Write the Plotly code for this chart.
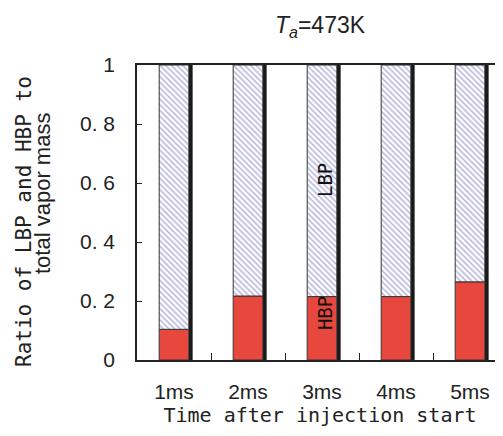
import plotly.graph_objects as go

categories = ["1ms", "2ms", "3ms", "4ms", "5ms"]
hbp = [0.104, 0.217, 0.215, 0.215, 0.265]
lbp = [round(1 - v, 3) for v in hbp]
totals = [h + l for h, l in zip(hbp, lbp)]
y_tickvals = [0, 0.2, 0.4, 0.6, 0.8, 1]
y_ticktext = ["0", "0. 2", "0. 4", "0. 6", "0. 8", "1"]

RED = "#e8473d"
OUTLINE = "#333333"
SANS = "Liberation Sans, Arial, sans-serif"
MONO = "DejaVu Sans Mono, Liberation Mono, monospace"

# page body has an 8px default margin, so figure is sized 8px smaller
W, H = 495, 428
L, T, B = 129, 57, 76
PW = W - L
PH = H - T - B

fig = go.Figure()

# shadow behind the right edge of each bar
fig.add_trace(go.Bar(
    x=categories, y=totals, base=[0] * len(categories),
    width=0.052, offset=0.2,
    marker=dict(color="#1a1a1a", line=dict(width=0)),
    hoverinfo="skip", showlegend=False,
))
fig.add_trace(go.Bar(
    x=categories, y=hbp, base=[0] * len(categories), name="HBP",
    width=0.4, offset=-0.2,
    marker=dict(color=RED, line=dict(color=OUTLINE, width=1)),
    showlegend=False,
))
fig.add_trace(go.Bar(
    x=categories, y=lbp, base=hbp, name="LBP",
    width=0.4, offset=-0.2,
    marker=dict(color="white", line=dict(color=OUTLINE, width=1),
                pattern=dict(shape="\\", fgcolor="#7474bc", bgcolor="white",
                             size=4, solidity=0.42)),
    showlegend=False,
))

fig.update_layout(
    width=W, height=H,
    margin=dict(l=L, r=0, t=T, b=B),
    barmode="overlay",
    plot_bgcolor="white", paper_bgcolor="white",
    title=dict(text="<i>T</i><sub><i>a</i></sub>=473K", x=0.5, xref="paper",
               xanchor="center", y=1 - 17 / H, yanchor="middle",
               font=dict(family=SANS, size=23, color="#222")),
    xaxis=dict(type="category", range=[-0.5, 4.446],
               showline=True, linecolor="#222", linewidth=1.5, mirror=True,
               ticks="inside", ticklen=7, tickcolor="#222", tickson="boundaries",
               tickfont=dict(family=SANS, size=21, color="#222"),
               ticklabelstandoff=12,
               showgrid=False,
               title=dict(text="Time after injection start",
                          font=dict(family=MONO, size=20, color="#222"), standoff=2)),
    yaxis=dict(range=[0, 1], tickvals=y_tickvals, ticktext=y_ticktext,
               showline=True, linecolor="#222", linewidth=1.5,
               ticks="inside", ticklen=5, tickcolor="#222",
               tickfont=dict(family=SANS, size=21, color="#222"),
               ticklabelstandoff=16,
               showgrid=False, zeroline=False),
)

# y-axis title (two lines); pixel targets converted to paper coords
fig.add_annotation(text="Ratio of LBP and HBP to", xref="paper", yref="paper",
                   x=(16 - L) / PW, y=(352 - 214) / PH, textangle=-90,
                   showarrow=False, xanchor="center", yanchor="middle",
                   font=dict(family=MONO, size=21, color="#222"))
fig.add_annotation(text="total vapor mass", xref="paper", yref="paper",
                   x=(34 - L) / PW, y=(352 - 186) / PH, textangle=-90,
                   showarrow=False, xanchor="center", yanchor="middle",
                   font=dict(family=SANS, size=22, color="#222"))

# in-bar labels
fig.add_annotation(text="LBP", x="3ms", y=0.61, xref="x", yref="y", xshift=3,
                   textangle=-90, showarrow=False,
                   font=dict(family=MONO, size=19, color="#111"))
fig.add_annotation(text="HBP", x="3ms", y=0.159, xref="x", yref="y", xshift=3,
                   textangle=-90, showarrow=False,
                   font=dict(family=MONO, size=19, color="#111"))

fig.write_html("out.html")
